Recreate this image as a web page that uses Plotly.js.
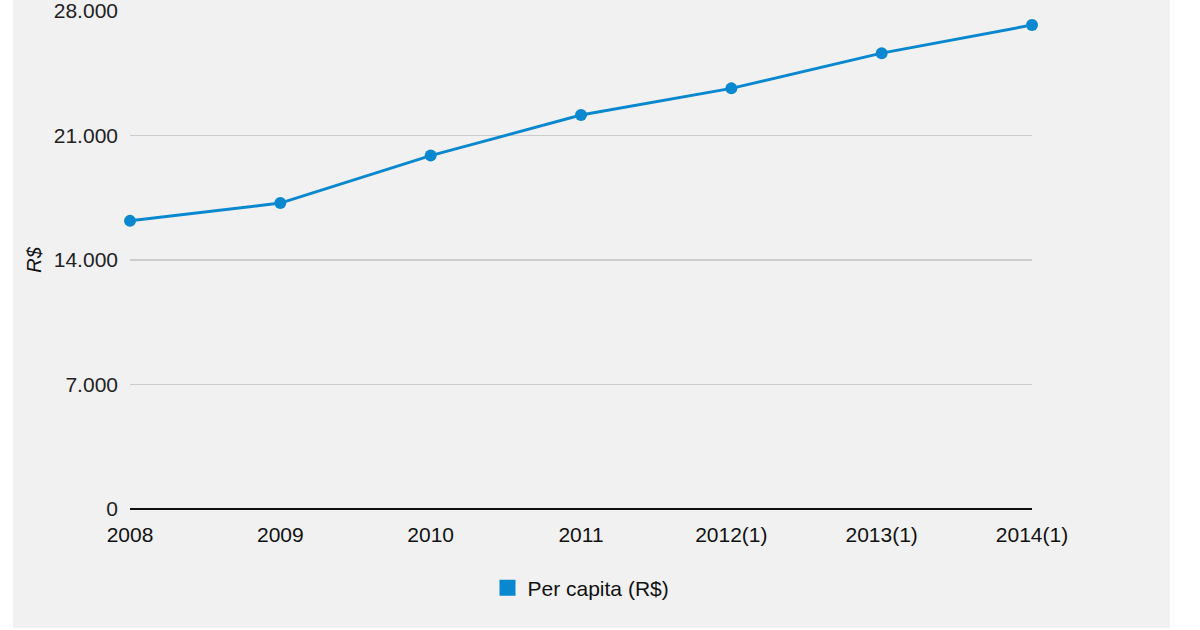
<!DOCTYPE html>
<html>
<head>
<meta charset="utf-8">
<script src="https://cdn.plot.ly/plotly-3.0.1.min.js"></script>
<style>html,body{margin:0;padding:0;background:#fff;}#chart{width:1200px;height:630px;}</style>
</head>
<body>
<div id="chart"></div>
<script>
const categories = ["2008", "2009", "2010", "2011", "2012(1)", "2013(1)", "2014(1)"];
const perCapita = [16200, 17200, 19870, 22150, 23650, 25630, 27210];
const yTicks = [0, 7000, 14000, 21000, 28000];
const seriesName = "Per capita (R$)";
const lineColor = "#0a88cf";

const traces = [
  {
    x: categories, y: perCapita, type: "scatter", mode: "lines+markers",
    line: {color: lineColor, width: 3},
    marker: {color: lineColor, size: 12},
    cliponaxis: false,
    showlegend: false, hoverinfo: "x+y"
  },
  {
    x: [categories[0]], y: [null], type: "scatter", mode: "markers",
    name: seriesName,
    marker: {color: lineColor, size: 20, symbol: "square"},
    showlegend: true
  }
];

const layout = {
  width: 1200, height: 630,
  margin: {l: 130, r: 168, t: 11, b: 121},
  paper_bgcolor: "#ffffff",
  plot_bgcolor: "rgba(0,0,0,0)",
  separators: ",.",
  font: {family: "Liberation Sans, Arial, sans-serif", size: 21, color: "#222"},
  shapes: [{
    type: "rect", xref: "paper", yref: "paper", layer: "below",
    x0: -117/902, x1: 1040/902, y0: -119/498, y1: 11/498 + 1,
    fillcolor: "#f1f1f1", line: {width: 0}
  }],
  xaxis: {
    type: "category", range: [0, 6], showgrid: false, zeroline: false,
    showline: false, ticks: "", ticklabelstandoff: 11, ticklabeloverflow: "allow",
    tickfont: {size: 21, color: "#111"}, fixedrange: true
  },
  yaxis: {
    range: [0, 28000], tickvals: yTicks, tickformat: ",d",
    showgrid: true, gridcolor: "#cccccc", gridwidth: 1.5,
    zeroline: true, zerolinecolor: "#111", zerolinewidth: 1.5,
    ticks: "", ticklabelstandoff: 11, ticklabeloverflow: "allow", showline: false,
    tickfont: {size: 21, color: "#222"},
    title: {text: "<i>R$</i>", font: {size: 20, color: "#111"}, standoff: 6},
    fixedrange: true
  },
  legend: {
    orientation: "h", x: 0.5, xanchor: "center", y: -0.159, yanchor: "middle",
    font: {size: 21, color: "#111"}, bgcolor: "rgba(0,0,0,0)",
    itemsizing: "trace"
  }
};

Plotly.newPlot("chart", traces, layout, {displayModeBar: false, staticPlot: true});
</script>
</body>
</html>
